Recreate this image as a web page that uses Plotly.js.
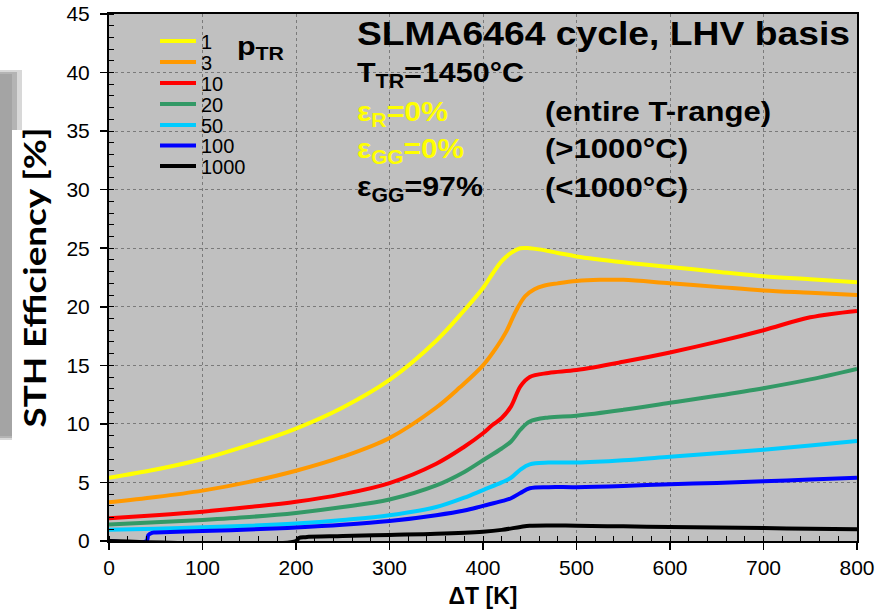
<!DOCTYPE html>
<html>
<head>
<meta charset="utf-8">
<script src="https://cdn.plot.ly/plotly-3.0.1.min.js"></script>
<style>
  html, body { margin: 0; padding: 0; background: #ffffff; }
  #chart { width: 875px; height: 609px; }
</style>
</head>
<body>
<div id="chart"></div>
<script>
// STH efficiency vs. temperature swing for several total-pressure ratios p_TR
const seriesNames = ['1', '3', '10', '20', '50', '100', '1000'];
const seriesColors = ['#ffff00', '#ff9900', '#ff0000', '#339966', '#00ccff', '#0000ff', '#000000'];

const dT_p1 = [0, 50, 100, 150, 200, 250, 300, 350, 380, 400, 410, 420, 430, 440, 450, 460, 480, 500, 550, 600, 650, 700, 750, 800];
const eff_p1 = [5.4, 6.1, 7.0, 8.2, 9.6, 11.4, 13.75, 17.1, 19.7, 21.6, 22.8, 23.9, 24.6, 25.0, 25.0, 24.9, 24.6, 24.3, 23.8, 23.4, 23.0, 22.6, 22.35, 22.1];

const dT_p3 = [0, 50, 100, 150, 200, 250, 300, 350, 375, 400, 415, 425, 435, 445, 455, 465, 480, 500, 525, 550, 600, 650, 700, 750, 800];
const eff_p3 = [3.3, 3.75, 4.3, 5.05, 6.0, 7.2, 8.8, 11.4, 13.1, 15.0, 16.6, 17.9, 19.6, 20.9, 21.5, 21.8, 22.0, 22.2, 22.3, 22.3, 22.0, 21.7, 21.4, 21.2, 21.0];

const dT_p10 = [0, 50, 100, 150, 200, 250, 300, 350, 380, 400, 410, 420, 430, 440, 450, 470, 500, 550, 600, 650, 700, 750, 800];
const eff_p10 = [1.95, 2.2, 2.5, 2.9, 3.35, 4.0, 4.95, 6.6, 8.05, 9.2, 9.9, 10.5, 11.5, 13.2, 14.0, 14.35, 14.6, 15.3, 16.1, 17.0, 18.0, 19.1, 19.65];

const dT_p20 = [0, 50, 100, 150, 200, 250, 300, 350, 380, 400, 420, 430, 440, 450, 470, 500, 550, 600, 650, 700, 750, 800];
const eff_p20 = [1.4, 1.6, 1.8, 2.05, 2.4, 2.9, 3.55, 4.75, 5.9, 6.9, 7.9, 8.5, 9.5, 10.2, 10.55, 10.7, 11.2, 11.8, 12.4, 13.05, 13.8, 14.7];

const dT_p50 = [0, 50, 100, 150, 200, 250, 300, 350, 380, 400, 420, 430, 440, 450, 470, 500, 550, 600, 650, 700, 750, 800];
const eff_p50 = [0.95, 1.05, 1.17, 1.3, 1.5, 1.8, 2.2, 2.9, 3.7, 4.35, 5.0, 5.4, 6.1, 6.55, 6.7, 6.7, 6.9, 7.2, 7.5, 7.8, 8.15, 8.55];

const dT_p100 = [0, 40, 42, 46, 50, 100, 150, 200, 250, 300, 350, 380, 400, 420, 430, 440, 450, 470, 500, 550, 600, 650, 700, 750, 800];
const eff_p100 = [0, 0, 0.5, 0.7, 0.72, 0.85, 0.98, 1.15, 1.38, 1.7, 2.2, 2.6, 3.0, 3.4, 3.65, 4.1, 4.5, 4.6, 4.6, 4.7, 4.85, 4.95, 5.1, 5.25, 5.4];

const dT_p1000 = [0, 200, 203, 210, 250, 300, 350, 400, 420, 440, 450, 470, 500, 550, 600, 650, 700, 750, 800];
const eff_p1000 = [0, 0, 0.25, 0.33, 0.42, 0.52, 0.62, 0.8, 0.95, 1.2, 1.3, 1.33, 1.3, 1.25, 1.2, 1.15, 1.1, 1.05, 1.0];

const xTicks = [0, 100, 200, 300, 400, 500, 600, 700, 800];
const yTicks = [0, 5, 10, 15, 20, 25, 30, 35, 40, 45];

const xs = [dT_p1, dT_p3, dT_p10, dT_p20, dT_p50, dT_p100, dT_p1000];
const ys = [eff_p1, eff_p3, eff_p10, eff_p20, eff_p50, eff_p100, eff_p1000];

const ARIAL = 'Liberation Sans, Arial, sans-serif';

// plot-area edges in pixels, and helpers to place things in paper units
const L = 109, R = 857, T = 14, B = 541;
const px = v => (v - L) / (R - L);
const py = v => (B - v) / (B - T);

// each series gets its own legend box so the rows can sit tightly stacked
const legendKeys = seriesNames.map((_, i) => (i === 0 ? 'legend' : 'legend' + (i + 1)));
const legendRowsY = [41, 62, 83, 104, 125, 145.5, 166];

const traces = seriesNames.map((name, i) => ({
  type: 'scatter',
  mode: 'lines',
  name: name,
  x: xs[i],
  y: ys[i],
  legend: legendKeys[i],
  line: { color: seriesColors[i], width: 4, shape: 'spline', smoothing: 1 },
  hoverinfo: 'x+y+name'
}));

const textLines = [
  { text: '<b>SLMA6464 cycle, LHV basis</b>', x: 355, y: 33, size: 34, color: '#000000', w: 493 },
  { text: '<b>T<sub>TR</sub>=1450°C</b>', x: 355, y: 74, size: 28, color: '#000000', w: 167 },
  { text: '<b>ε<sub>R</sub>=0%</b>', x: 355, y: 114, size: 28, color: '#ffff00', w: 91 },
  { text: '<b>(entire T-range)</b>', x: 543, y: 112, size: 28, color: '#000000', w: 226 },
  { text: '<b>ε<sub>GG</sub>=0%</b>', x: 355, y: 150, size: 28, color: '#ffff00', w: 107 },
  { text: '<b>(>1000°C)</b>', x: 543, y: 148, size: 28, color: '#000000', w: 143 },
  { text: '<b>ε<sub>GG</sub>=97%</b>', x: 355, y: 189, size: 28, color: '#000000', w: 126 },
  { text: '<b>(<1000°C)</b>', x: 543, y: 187, size: 28, color: '#000000', w: 143 },
  { text: '<b>p<sub>TR</sub></b>', x: 235, y: 47, size: 26, color: '#000000', w: 47 }
];

const annotations = textLines.map(t => ({
  xref: 'paper', yref: 'paper',
  x: px(t.x), y: py(t.y),
  xanchor: 'left', yanchor: 'middle', align: 'left',
  text: t.text, showarrow: false,
  font: { family: ARIAL, size: t.size, color: t.color }
}));

const shapes = [
  { type: 'rect', xref: 'paper', yref: 'paper', layer: 'below',
    x0: px(0), x1: px(22), y0: py(440), y1: py(70),
    fillcolor: '#d8d8d8', line: { width: 0 } },
  { type: 'rect', xref: 'paper', yref: 'paper', layer: 'below',
    x0: px(0), x1: px(17), y0: py(438), y1: py(72),
    fillcolor: '#b4b4b4', line: { width: 0 } },
  { type: 'rect', xref: 'paper', yref: 'paper', layer: 'below',
    x0: px(0), x1: px(12), y0: py(436), y1: py(74),
    fillcolor: '#a4a4a4', line: { width: 0 } },
  { type: 'rect', xref: 'paper', yref: 'paper', layer: 'below',
    x0: px(12), x1: px(56), y0: py(440), y1: py(130),
    fillcolor: '#ffffff', line: { width: 0 } }
];

const layout = {
  width: 875,
  height: 609,
  margin: { l: L, r: 875 - R, t: T, b: 609 - B },
  paper_bgcolor: '#ffffff',
  plot_bgcolor: '#c0c0c0',
  showlegend: true,
  xaxis: {
    range: [0, 800],
    tickvals: xTicks,
    ticktext: xTicks.map(String),
    ticks: 'outside', ticklen: 7, tickwidth: 1.5, tickcolor: '#000000',
    minor: { dtick: 20, ticks: 'inside', ticklen: 5, tickwidth: 1, tickcolor: '#000000', showgrid: false },
    showgrid: true, gridcolor: '#7a7a7a', griddash: 'dot', gridwidth: 1,
    showline: true, linecolor: '#000000', linewidth: 2, mirror: true,
    zeroline: false,
    tickfont: { family: ARIAL, size: 21, color: '#000000' },
    title: { text: '<b>ΔT [K]</b>', font: { family: ARIAL, size: 23, color: '#000000' }, standoff: 10 }
  },
  yaxis: {
    range: [0, 45],
    tickvals: yTicks,
    ticktext: yTicks.map(String),
    ticks: 'outside', ticklen: 7, tickwidth: 1.5, tickcolor: '#000000',
    ticklabelstandoff: 6,
    minor: { dtick: 1, ticks: 'inside', ticklen: 5, tickwidth: 1, tickcolor: '#000000', showgrid: false },
    showgrid: true, gridcolor: '#7a7a7a', griddash: 'dot', gridwidth: 1,
    showline: true, linecolor: '#000000', linewidth: 2, mirror: true,
    zeroline: false,
    tickfont: { family: ARIAL, size: 21, color: '#000000' },
    title: { text: '<b>STH Efficiency [%]</b>', font: { family: 'Lato, Liberation Sans, sans-serif', size: 31, color: '#000000' } }
  },
  annotations: annotations,
  shapes: shapes
};

legendKeys.forEach((key, i) => {
  layout[key] = {
    x: px(155), y: py(legendRowsY[i]), xanchor: 'left', yanchor: 'middle',
    bgcolor: 'rgba(0,0,0,0)', borderwidth: 0,
    font: { family: ARIAL, size: 20, color: '#000000' },
    itemwidth: 36
  };
});

Plotly.newPlot('chart', traces, layout, { displayModeBar: false, staticPlot: true }).then(gd => {
  // the bold text in this figure runs slightly wide; stretch it to its set width
  const annTexts = gd.querySelectorAll('.annotation-text');
  annTexts.forEach((el, i) => {
    const spec = textLines[i];
    if (!spec) return;
    el.setAttribute('textLength', spec.w);
    el.setAttribute('lengthAdjust', 'spacingAndGlyphs');
  });
  // y-axis title: stretch along its length and sit it a little closer to the ticks
  const yt = gd.querySelector('.ytitle');
  if (yt) {
    yt.setAttribute('textLength', 300);
    yt.setAttribute('lengthAdjust', 'spacingAndGlyphs');
    const x = parseFloat(yt.getAttribute('x')) + 10;
    const y = parseFloat(yt.getAttribute('y'));
    yt.setAttribute('x', x);
    yt.setAttribute('transform', 'rotate(-90,' + x + ',' + y + ')');
  }
});
</script>
</body>
</html>
